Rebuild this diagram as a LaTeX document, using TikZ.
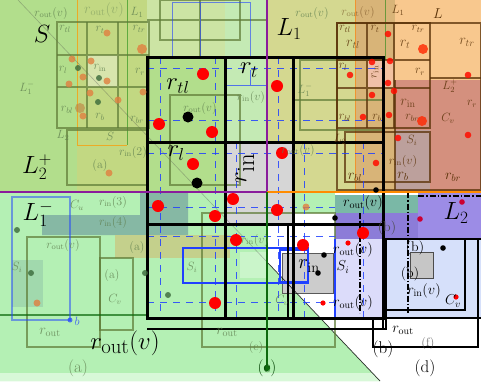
\documentclass[tikz,border=0pt]{standalone}
\usetikzlibrary{calc}
\definecolor{gbase}{HTML}{B4F0B4}
\definecolor{gpale}{HTML}{D8F8D8}
\definecolor{ygA}{HTML}{B2DE8C}
\definecolor{ygB}{HTML}{C2D882}
\definecolor{topm}{HTML}{CCE4A4}
\definecolor{lstrip}{HTML}{C4EAB4}
\definecolor{olv}{HTML}{D4D890}
\definecolor{orng}{HTML}{F8C88E}
\definecolor{orngd}{HTML}{D8B478}
\definecolor{redb}{HTML}{D4907E}
\definecolor{pinkg}{HTML}{BCA09C}
\definecolor{brwn}{HTML}{5A3208}
\definecolor{olgrid}{HTML}{5E7A36}
\definecolor{purp}{HTML}{8A1C9C}
\definecolor{orl}{HTML}{FF8C00}
\definecolor{dgreen}{HTML}{0E6A0E}
\definecolor{vio}{HTML}{9C8CE6}
\definecolor{vio2}{HTML}{8C7CD8}
\definecolor{tealc}{HTML}{7AB8A6}
\definecolor{tealb}{HTML}{86B8A4}
\definecolor{lav}{HTML}{DCDCFA}
\definecolor{lav2}{HTML}{D6E0FA}
\definecolor{bblue}{HTML}{2040FF}
\definecolor{rgrey}{HTML}{D6D6D6}
\definecolor{faint}{HTML}{5F7F4F}
\definecolor{odot}{HTML}{E08040}
\definecolor{gdot}{HTML}{3A6A3A}
\definecolor{khaki}{HTML}{C4D08C}
\definecolor{pinkc}{HTML}{F0C0A8}
\begin{document}
\begin{tikzpicture}[x=1pt,y=-1pt,
  big/.style={inner sep=0pt, font=\fontsize{27}{30}\selectfont},
  huge/.style={inner sep=0pt, font=\fontsize{40}{44}\selectfont},
  mid/.style={inner sep=0pt, font=\fontsize{14}{16}\selectfont},
  lbl/.style={inner sep=0pt, font=\fontsize{17}{19}\selectfont},
  sml/.style={inner sep=0pt, font=\fontsize{12}{14}\selectfont, text=faint, text opacity=.8},
  brn/.style={inner sep=0pt, font=\fontsize{12}{14}\selectfont, text=brwn, text opacity=.85},
  gridl/.style={black, line width=3pt},
  blk/.style={black, line width=1.6pt},
  bdash/.style={bblue, line width=1pt, dash pattern=on 7pt off 6pt, opacity=.85},
  olbox/.style={draw=olgrid, line width=1.2pt, opacity=.7},
  brbox/.style={draw=brwn, line width=1.4pt, opacity=.75},
]
\useasboundingbox (0,0) rectangle (481,381);
% ---------- backgrounds ----------
\fill[white] (0,0) rectangle (481,381);
\fill[gbase] (0,0) -- (18,0) -- (380,381) -- (0,381) -- cycle;
\fill[gbase] (0,192) rectangle (267,318);
\fill[gpale] (0,373) -- (372,373) -- (380,381) -- (0,381) -- cycle;
\fill[ygA] (0,0) rectangle (267,192);
\fill[ygB] (77,0) rectangle (147,192);
\fill[topm] (147,0) rectangle (267,57);
\fill[lstrip] (225,0) rectangle (267,142);
\fill[olv] (267,0) rectangle (355,192);
\fill[orng] (355,0) rectangle (481,192);
\fill[orngd] (355,0) rectangle (395,192);
\fill[redb] (395,80) rectangle (481,192);
\fill[pinkg] (395,130) rectangle (430,190);
\fill[tealb] (42,215) -- (140,215) -- (140,192) -- (188,192) -- (188,235) -- (42,235) -- cycle;
\fill[khaki] (115,235) rectangle (230,258);
\fill[tealb, opacity=.4] (12,260) rectangle (43,307);
\fill[gbase] (293,192) rectangle (335,213);
\fill[tealc] (335,195) rectangle (418,213);
\fill[vio] (418,192) rectangle (481,239);
\fill[vio2] (335,213) rectangle (418,239);
\fill[lav] (335,239) rectangle (385,318);
\fill[lav2] (385,239) rectangle (481,318);
\fill[white] (268,226) -- (335,226) -- (335,318) -- (320,318) -- (268,263) -- cycle;
\fill[rgrey] (225,142) rectangle (293,224);
\fill[pinkc] (368,60) rectangle (383,87);
\fill[pinkc!70!orng] (385,60) rectangle (394,88);
\fill[white, opacity=.35] (87,55) rectangle (118,87);
% lower-right boxes
\fill[gray!40] (282,253) rectangle (333,293);
\draw[gray!70!black, line width=1pt] (282,253) rectangle (333,293);
\fill[gray!45] (410,252) rectangle (433,278);
\draw[gray!60!black, line width=.8pt] (410,252) rectangle (433,278);
\fill[gbase!70!white] (240,252) rectangle (268,278);
% ---------- faint structures ----------
\draw[draw=orange!80!yellow, line width=1pt, opacity=.7] (77,0) -- (77,145) -- (127,145);
\draw[draw=green!50!black, line width=1pt, opacity=.5] (127,0) -- (127,145);
\draw[draw=orange, line width=1pt, opacity=.6] (355,0) -- (355,192);
\draw[draw=green!50!black, line width=1pt, opacity=.5] (385,0) -- (385,60);
\draw[gray!60!black, line width=.6pt, opacity=.35] (18,0) -- (268,263);
\draw[black, line width=.7pt, opacity=.8] (268,263) -- (380,381);
\begin{scope}[olbox]
 \draw (57,22) rectangle (149,128);
 \draw (87,22) -- (87,128) (118,22) -- (118,128) (57,55) -- (149,55) (57,87) -- (149,87);
 \draw (67,130) rectangle (147,185);
 \draw (27,237) rectangle (100,347);
 \draw (100,258) rectangle (133,330);
 \draw (202,213) rectangle (335,347);
 \draw (160,0) rectangle (240,40);
 \draw (147,20) -- (267,20) (200,0) -- (200,57);
 \draw (170,95) rectangle (240,185);
 \draw (300,60) rectangle (383,130);
 \draw (293,100) -- (383,100);
\end{scope}
\draw[dgreen, line width=1.2pt, opacity=.7] (0,315) -- (147,315);
\draw[bblue, line width=1pt, opacity=.6] (172,2) rectangle (250,57) (200,2) -- (200,57);
\draw[bblue, line width=1pt, opacity=.7] (225,85) -- (267,85) (250,70) -- (250,85);
\draw[bblue, line width=1.1pt, opacity=.5] (12,197) rectangle (70,320);
\draw[bblue, line width=1.2pt] (183,248) rectangle (308,283);
\draw[bblue, line width=1.2pt] (280,250) rectangle (308,282);
\draw[bblue, line width=1.4pt] (335,239) -- (335,318) -- (481,318);
\draw[bblue, line width=1.2pt] (293,192) -- (481,192);
\fill[bblue, opacity=.7] (70,320) circle (2.5);
\begin{scope}[brbox]
 \draw (337,23) rectangle (430,128);
 \draw (367,23) -- (367,128) (394,23) -- (394,128) (337,60) -- (430,60) (337,88) -- (430,88);
 \draw (345,132) rectangle (430,182);
 \draw (337,23) rectangle (481,190);
 \draw (430,78) -- (481,78) (395,80) -- (395,190);
\end{scope}
% ---------- blue dashed lines ----------
\foreach \x in {160,215,278} \draw[bdash] (\x,57) -- (\x,318);
\foreach \x in {236,304,363} \draw[bdash] (\x,142) -- (\x,318);
\foreach \y in {68,120,153} \draw[bdash] (147,\y) -- (383,\y);
\foreach \y in {207,236,302} \draw[bdash] (147,\y) -- (335,\y);
% ---------- main grid ----------
\draw[gridl] (147,57) rectangle (383,318);
\draw[gridl] (225,57) -- (225,318) (293,57) -- (293,318) (147,142) -- (383,142) (147,224) -- (383,224);
\draw[blk] (147,329) -- (385,329) (383,318) -- (383,329);
\draw[blk] (288,226) -- (288,318) (386,239) -- (386,330);
\draw[blk] (383,318) -- (481,318);
\draw[blk] (373,318) -- (373,347) -- (478,347) -- (478,239) (386,239) -- (481,239);
\draw[black, line width=1.2pt] (385,239) rectangle (465,310);
\draw[black, line width=1.2pt, dash pattern=on 6pt off 2pt on 1.5pt off 2pt] (360,213) -- (360,313) (408,192) -- (408,313) (418,196) -- (481,196);
% ---------- cross lines ----------
\draw[purp, line width=2.5pt] (0,192) -- (267,192) -- (267,0);
\draw[orl, line width=2.5pt] (267,192) -- (481,192);
\draw[dgreen, line width=2.5pt] (267,192) -- (267,368);
\fill[dgreen] (267,368) circle (3.2);
% ---------- dots ----------
\foreach \p in {(203,74),(277,86),(159,124),(212,132),(193,164),(282,153),(233,199),(158,206),(277,210),(215,216),(236,240),(303,245),(215,303),(363,233)}
  \fill[red] \p circle (6);
\foreach \p in {(348,243),(323,303),(456,297)} \fill[red] \p circle (2.6);
\foreach \p in {(462,202),(420,219)} \fill[purple!80!red] \p circle (2.8);
\foreach \p in {(388,34),(372,62),(390,61),(388,83),(350,75),(394,91),(372,95),(363,117),(389,115),(398,138),(468,135),(376,163),(468,75)}
  \fill[red!90!orange, opacity=.85] \p circle (3.3);
\foreach \p in {(423,49),(422,121)} \fill[red!70!orange, opacity=.8] \p circle (5);
\foreach \p in {(107,33),(72,59),(83,77),(69,84),(107,81),(91,61),(90,93),(118,100),(143,92),(83,116),(109,173),(306,207),(37,303)}
  \fill[odot, opacity=.8] \p circle (3.5);
\fill[odot, opacity=.8] (142,49) circle (5);
\fill[brown, opacity=.6] (80,108) circle (5);
\foreach \p in {(78,68),(99,78),(98,102),(31,273),(145,273),(168,295),(17,230)} \fill[gdot, opacity=.8] \p circle (3);
\foreach \p in {(188,117),(197,183)} \fill[black] \p circle (5.5);
\foreach \p in {(324,255),(318,273),(443,248),(335,218),(376,190)} \fill[black] \p circle (2.8);
% ---------- faint labels ----------
\node[sml] (f1) at (51,13) {$r_{\mathrm{out}}(v)$};
\node[mid, text=faint, text opacity=.45] (f2) at (104,10) {$r_{\mathrm{out}}(v)$};
\node[sml] (f3) at (137,12) {$L_1$};
\node[sml] (f4) at (27,88) {$L_1^-$};
\node[sml] (f5) at (63,135) {$L_2$};
\node[sml] (f6) at (110,136) {$S$};
\node[sml] (f7) at (100,165) {(a)};
\node[sml] (f8) at (133,152) {$r_{\mathrm{in}}(2)$};
\node[sml] (f9) at (77,205) {$C_u$};
\node[sml] (f10) at (113,202) {$r_{\mathrm{in}}(3)$};
\node[sml] (f11) at (113,222) {$r_{\mathrm{in}}(4)$};
\node[sml] (f12) at (63,245) {$r_{\mathrm{out}}(v)$};
\node[sml] (f13) at (137,247) {(a)};
\node[sml] (f14) at (17,267) {$S_i$};
\node[sml] (f15) at (112,275) {(a)};
\node[sml] (f16) at (115,299) {$C_v$};
\node[sml, text=bblue] (f17) at (77,321) {$b$};
\node[mid, text=faint, text opacity=.8] (f18) at (50,332) {$r_{\mathrm{out}}$};
\node[lbl, text=faint, text opacity=.8] (f19) at (78,368) {(a)};
\node[sml] (f20) at (192,267) {$S_i$};
\node[sml] (f21) at (255,240) {$r_{\mathrm{in}}(v)$};
\node[mid, text=faint, text opacity=.8] (f22) at (227,332) {$r_{\mathrm{out}}$};
\node[sml] (f23) at (256,347) {(c)};
\node[lbl, text=dgreen!70!black] (f24) at (267,368) {(c)};
\node[sml] (f25) at (282,300) {$C_v$};
\node[sml] (f26) at (305,90) {$L_1^-$};
\node[sml] (f27) at (251,97) {$r_{\mathrm{in}}(v)$};
\node[sml] (f28) at (298,150) {$r_{\mathrm{out}}(v)$};
\node[sml] (f29) at (312,13) {$r_{\mathrm{out}}(v)$};
\node[sml] (f30) at (65,29) {$r_{tl}$};
\node[sml] (f31) at (100,30) {$r_t$};
\node[sml] (f32) at (139,29) {$r_{tr}$};
\node[sml] (f33) at (63,70) {$r_l$};
\node[sml] (f34) at (100,68) {$r_{\mathrm{in}}$};
\node[sml] (f35) at (140,72) {$r_r$};
\node[sml] (f36) at (67,110) {$r_{bl}$};
\node[sml] (f37) at (100,117) {$r_b$};
\node[sml] (f38) at (137,120) {$r_{br}$};
\node[sml] (f39) at (200,108) {$r_{\mathrm{out}}(v)$};
% right sub-figure labels
\node[brn, text opacity=.5] (g0) at (358,12) {$r_{\mathrm{out}}(v)$};
\node[brn] (g1) at (398,10) {$L_1$};
\node[mid, text=brwn] (g2) at (438,14) {$L$};
\node[brn] (g3) at (345,29) {$r_{tl}$};
\node[brn] (g4) at (375,29) {$r_t$};
\node[brn] (g5) at (418,29) {$r_{tr}$};
\node[mid, text=brwn, text opacity=.8] (g6) at (353,44) {$r_{tl}$};
\node[mid, text=brwn, text opacity=.8] (g7) at (405,44) {$r_t$};
\node[mid, text=brwn, text opacity=.8] (g8) at (467,42) {$r_{tr}$};
\node[brn] (g9) at (343,67) {$r_l$};
\node[brn, rotate=90] (g10) at (375,72) {$r_{\mathrm{in}}$};
\node[brn] (g11) at (420,72) {$r_r$};
\node[mid, text=brwn, text opacity=.8] (g12) at (408,103) {$r_{\mathrm{in}}$};
\node[brn] (g13) at (345,118) {$r_{bl}$};
\node[brn] (g14) at (377,118) {$r_b$};
\node[brn] (g15) at (412,118) {$r_{br}$};
\node[brn] (g16) at (450,86) {$L_2^+$};
\node[brn] (g17) at (472,104) {$r_r$};
\node[brn] (g18) at (448,118) {$C_v$};
\node[brn] (g19) at (412,140) {$S_i$};
\node[brn] (g20) at (340,139) {$L_2$};
\node[brn] (g21) at (403,161) {$r_{\mathrm{in}}(v)$};
\node[mid, text=brwn] (g22) at (355,177) {$r_{bl}$};
\node[mid, text=brwn] (g23) at (403,176) {$r_b$};
\node[mid, text=brwn] (g24) at (453,177) {$r_{br}$};
% ---------- lower right labels ----------
\node[mid] (h1) at (363,203) {$r_{\mathrm{out}}(v)$};
\node[mid] (h2) at (353,250) {$r_{\mathrm{out}}(v)$};
\node[mid] (h3) at (343,267) {$S_i$};
\node[mid] (h4) at (353,303) {$r_{\mathrm{out}}(v)$};
\node[mid] (h5) at (415,248) {(b)};
\node[mid] (h6) at (410,274) {(b)};
\node[mid] (h7) at (424,291) {$r_{\mathrm{in}}(v)$};
\node[mid] (h8) at (453,301) {$C_v$};
\node[mid, text=black!70] (h9) at (387,228) {(b)};
\node[inner sep=0pt, font=\fontsize{22}{24}\selectfont] (h10) at (309,266) {$r_{\mathrm{in}}$};
\node[mid] (h11) at (403,330) {$r_{\mathrm{out}}$};
\node[sml, text=black!70] (h12) at (428,343) {(f)};
\node[lbl] (h13) at (383,349) {(b)};
\node[lbl] (h14) at (425,368) {(d)};
% ---------- big labels ----------
\node[big] (S) at (42,34) {$S$};
\node[big] (L1) at (289,29) {$L_1$};
\node[big] (L2p) at (37,167) {$L_2^+$};
\node[big] (L1m) at (38,214) {$L_1^-$};
\node[big] (L2) at (456,213) {$L_2$};
\node[big] (rtl) at (178,86) {$r_{tl}$};
\node[big] (rt) at (249,70) {$r_t$};
\node[big] (rl) at (176,153) {$r_l$};
\node[huge, rotate=90] (rin) at (245,168) {$r_{\mathrm{in}}$};
\node[inner sep=0pt, font=\fontsize{30}{32}\selectfont] (rout) at (125,343) {$r_{\mathrm{out}}(v)$};
\end{tikzpicture}
\end{document}
